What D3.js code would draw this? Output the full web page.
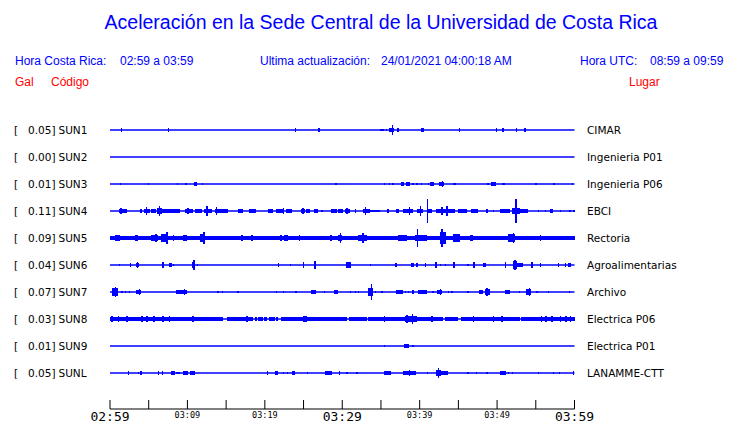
<!DOCTYPE html>
<html><head><meta charset="utf-8">
<script src="https://cdn.jsdelivr.net/npm/d3@7"></script>
<style>
html,body{margin:0;padding:0;background:#fff;}
svg{display:block;}
</style>
</head><body>
<svg id="chart" width="740" height="423"></svg>
<script>
// ---------- DATA ----------
const titleText = "Aceleración en la Sede Central de la Universidad de Costa Rica";
const headerLabels = ["Hora Costa Rica:", "Ultima actualización:", "Hora UTC:"];
const headerValues = ["02:59 a 03:59", "24/01/2021 04:00:18 AM", "08:59 a 09:59"];
const columnHeads = ["Gal", "Código", "Lugar"];

const stations = ["SUN1","SUN2","SUN3","SUN4","SUN5","SUN6","SUN7","SUN8","SUN9","SUNL"];
const places = ["CIMAR","Ingenieria P01","Ingenieria P06","EBCI","Rectoria","Agroalimentarias","Archivo","Electrica P06","Electrica P01","LANAMME-CTT"];
const peakGal = [0.05,0.00,0.01,0.11,0.09,0.04,0.07,0.03,0.01,0.05];
const noiseGal = [0,0,0,0,0.016,0,0,0,0,0];

const startTime = "2021-01-24T02:59:00";
const endTime = "2021-01-24T03:59:00";
const tickMinutes = [0,5,10,15,20,25,30,35,40,45,50,55,60];
const tickLabels = ["02:59","","03:09","","03:19","","03:29","","03:39","","03:49","","03:59"];
const tickMajor = [true,false,false,false,false,false,true,false,false,false,false,false,true];

// events: [start minute, end minute, half amplitude in gal]
const sun1 = [[1.46,1.46,0.014],[7.5,7.5,0.014],[23.9,23.9,0.014],[26.9,27.1,0.014],
 [35.0,35.4,0.012],[35.7,35.7,0.012],[36.1,36.4,0.016],[36.48,36.48,0.048],[36.5,36.7,0.02],
 [37.1,37.3,0.018],[40.3,40.5,0.018],[45.1,45.1,0.014],[49.9,49.9,0.014],[50.7,50.7,0.014],
 [52.5,52.5,0.014],[53.5,53.7,0.018]];
const sun2 = [];
const sun3 = [[1.33,1.33,0.012],[4.95,4.95,0.012],[8.7,8.7,0.012],[9.8,9.8,0.012],[10.9,11.2,0.014],
 [11.9,11.9,0.012],[29.1,29.3,0.012],[35.4,35.4,0.012],[36.1,36.1,0.01],[36.5,36.5,0.01],
 [37.6,38.0,0.014],[38.3,38.8,0.016],[39.1,39.1,0.01],[39.6,39.6,0.01],[40.2,40.2,0.01],
 [41.1,41.1,0.01],[41.4,41.8,0.014],[42.6,43.1,0.016],[42.9,42.9,0.024],[44.4,44.4,0.01],
 [44.6,44.6,0.01],[48.8,48.8,0.01],[49.3,49.8,0.016],[50.7,50.7,0.012],[50.9,50.9,0.01],
 [55.0,55.0,0.01],[57.3,57.3,0.01],[59.7,59.7,0.01]];
const sun4 = [[1.2,2.2,0.015],[1.42,1.42,0.03],[3.96,3.96,0.014],[4.44,5.17,0.015],[4.69,4.69,0.04],
 [5.38,5.9,0.014],[6.12,6.68,0.03],[6.37,6.37,0.05],[6.68,7.97,0.015],[8.1,8.74,0.014],[8.9,8.9,0.014],
 [9.73,10.77,0.015],[10.03,10.03,0.032],[10.98,11.93,0.014],[12.27,13.14,0.015],[12.49,12.49,0.042],
 [13.57,15.2,0.014],[13.74,13.74,0.037],[16.58,17.14,0.016],[18.0,18.82,0.016],[20.46,21.02,0.016],
 [21.53,22.52,0.015],[22.4,22.4,0.028],[22.83,23.47,0.014],[24.76,25.19,0.014],[24.9,24.9,0.032],
 [25.37,25.88,0.014],[26.44,26.92,0.015],[27.26,27.56,0.012],[28.55,29.29,0.015],[29.5,30.15,0.014],
 [30.37,31.0,0.015],[30.58,30.58,0.028],[31.66,31.66,0.018],[32.73,33.6,0.02],[32.95,32.95,0.037],
 [33.6,34.9,0.012],[35.88,35.88,0.014],[36.96,37.39,0.014],[37.9,39.2,0.02],[38.68,38.68,0.037],
 [39.71,40.49,0.02],[40.06,40.06,0.046],[41.0,41.0,0.11],[41.13,41.56,0.016],[42.21,44.58,0.02],
 [42.86,42.86,0.035],[43.5,43.5,0.046],[45.0,46.1,0.014],[46.73,47.59,0.014],[48.67,48.67,0.014],
 [49.53,49.53,0.012],[50.39,51.68,0.016],[51.98,52.98,0.028],[52.42,52.42,0.11],[52.98,54.05,0.016],
 [55.34,55.34,0.012],[56.2,56.2,0.012],[56.85,57.28,0.014],[58.14,58.14,0.012],[59.4,59.4,0.012],[59.9,59.9,0.012]];
const sun5 = [[0.65,1.3,0.025],[3.23,3.66,0.024],[5.38,6.16,0.028],[5.9,5.9,0.04],[6.59,7.45,0.038],
 [7.32,7.32,0.055],[8.18,8.18,0.025],[9.47,9.9,0.028],[11.63,12.27,0.035],[12.1,12.1,0.055],
 [12.27,14.0,0.022],[17.0,17.0,0.025],[18.3,18.3,0.025],[22.05,22.05,0.025],[22.6,22.95,0.024],
 [24.46,24.46,0.03],[25.4,25.8,0.022],[28.5,28.5,0.03],[29.5,30.0,0.032],[29.76,29.76,0.045],
 [32.09,33.17,0.03],[32.65,32.65,0.05],[37.26,38.33,0.024],[39.41,40.92,0.028],[39.71,39.71,0.08],
 [42.64,43.42,0.055],[42.85,42.85,0.085],[44.36,45.22,0.035],[46.52,46.95,0.024],[49.3,51.0,0.021],
 [51.47,52.33,0.033],[52.11,52.11,0.05],[55.56,55.56,0.03],[57.7,57.7,0.022]];
const sun6 = [[1.2,1.2,0.01],[2.63,2.63,0.014],[3.45,3.75,0.02],[3.53,3.53,0.03],[6.76,6.98,0.032],
 [7.75,7.97,0.02],[8.18,8.18,0.01],[10.64,10.98,0.03],[10.81,10.81,0.042],[11.24,11.24,0.012],
 [21.75,21.75,0.018],[23.26,23.26,0.01],[24.94,25.11,0.028],[26.4,26.57,0.037],[30.58,31.1,0.028],
 [33.6,33.6,0.01],[36.83,37.04,0.023],[38.98,39.28,0.023],[39.63,39.63,0.014],[40.7,40.7,0.018],
 [42.0,42.3,0.028],[42.64,42.64,0.012],[43.29,43.29,0.012],[44.36,44.58,0.032],[46.21,46.21,0.01],
 [46.95,47.16,0.032],[48.24,48.54,0.018],[51.04,51.04,0.028],[52.11,52.54,0.04],[52.29,52.29,0.05],
 [52.54,53.32,0.02],[54.48,54.48,0.026],[55.56,55.56,0.02],[57.93,57.93,0.014],[58.79,58.79,0.014],
 [59.26,59.52,0.023]];
const sun7 = [[0.3,0.99,0.04],[0.65,0.65,0.045],[1.5,1.5,0.01],[2.0,2.0,0.012],[2.5,2.5,0.012],
 [3.36,4.0,0.023],[3.79,3.79,0.032],[8.53,9.9,0.023],[9.6,9.6,0.032],[13.9,13.9,0.01],[14.5,14.5,0.01],
 [16.5,16.5,0.01],[21.45,21.45,0.01],[22.4,22.4,0.01],[23.99,23.99,0.01],[26.06,26.57,0.023],
 [27.69,27.69,0.01],[28.98,29.41,0.023],[31.01,31.01,0.01],[31.66,31.66,0.01],[32.09,32.09,0.01],
 [33.38,34.03,0.037],[33.73,33.73,0.07],[34.24,34.24,0.012],[35.1,35.1,0.01],[37.04,37.82,0.018],
 [38.12,38.12,0.012],[38.55,38.55,0.012],[39.11,39.11,0.014],[39.84,41.0,0.02],[41.69,41.69,0.012],
 [42.3,42.86,0.023],[42.64,42.64,0.03],[43.72,43.72,0.01],[44.15,44.15,0.01],[46.21,46.21,0.01],
 [47.72,48.15,0.023],[48.45,49.1,0.028],[48.67,48.67,0.035],[51.04,51.68,0.023],[52.89,52.89,0.01],
 [53.84,54.35,0.03],[54.14,54.14,0.037],[55.13,55.13,0.012],[56.64,56.64,0.012],[59.35,59.35,0.01]];
const sun8 = [[0,14.64,0.017],[15.16,17.66,0.017],[17.87,18.52,0.017],[18.82,18.82,0.018],
 [19.16,19.81,0.017],[19.94,20.33,0.017],[20.54,20.89,0.017],[21.02,21.32,0.017],[21.53,21.53,0.017],
 [22.09,30.58,0.017],[31.0,33.17,0.017],[33.4,38.12,0.017],[38.12,39.63,0.025],[38.33,38.33,0.04],
 [39.07,39.07,0.05],[39.63,43.07,0.017],[43.29,45.0,0.017],[45.44,52.97,0.017],[53.2,60,0.017],
 [0.22,0.22,0.03],[1.08,1.08,0.028],[2.15,2.15,0.028],[4.09,4.09,0.03],[4.74,4.74,0.026],
 [5.68,5.68,0.028],[6.8,6.8,0.03],[7.67,7.67,0.026],[10.64,10.9,0.032],[17.66,17.66,0.026],
 [24.98,25.41,0.028],[35.45,35.45,0.026],[41.56,41.56,0.026],[46.95,46.95,0.026],[49.53,49.53,0.026],
 [50.6,50.6,0.024],[55.69,55.69,0.026],[56.3,56.3,0.026],[57.07,57.07,0.026],[58.14,58.14,0.024],
 [58.88,58.88,0.026],[59.43,59.43,0.026]];
const sun9 = [[35.4,35.4,0.01],[38.1,38.6,0.014],[39.1,39.1,0.01]];
const sunL = [[2.37,2.37,0.014],[3.66,3.66,0.01],[4.0,4.18,0.018],[6.24,6.24,0.014],[6.76,6.76,0.014],
 [7.88,8.4,0.018],[8.61,8.61,0.012],[8.91,8.91,0.012],[9.47,10.12,0.018],[10.34,10.98,0.018],
 [20.33,20.33,0.014],[21.32,21.75,0.018],[22.39,22.39,0.012],[22.91,22.91,0.012],[23.56,23.9,0.018],
 [25.5,25.5,0.012],[27.86,28.64,0.022],[29.63,29.63,0.014],[30.58,30.58,0.01],[31.87,31.87,0.012],
 [35.45,36.27,0.018],[37.9,38.33,0.018],[38.33,39.54,0.023],[38.68,38.68,0.032],[41.0,41.0,0.012],
 [42.21,42.73,0.032],[42.42,42.42,0.05],[42.73,43.72,0.018],[46.21,46.21,0.012],[47.29,47.29,0.012],
 [48.67,48.67,0.012],[50.39,51.12,0.023],[51.47,51.47,0.012],[51.98,51.98,0.012],[55.34,55.34,0.012],
 [57.28,57.28,0.012],[58.01,58.01,0.012],[59.87,59.87,0.018]];
const stationEvents = [sun1,sun2,sun3,sun4,sun5,sun6,sun7,sun8,sun9,sunL];

// ---------- DRAW ----------
const svg = d3.select("#chart");
const blue = "#0000ff", red = "#ff0000";
const sans = "'Liberation Sans', Arial, sans-serif";
const dv = "'DejaVu Sans', sans-serif";
const mono = "'DejaVu Sans Mono', monospace";

const t0 = new Date(startTime), t1 = new Date(endTime);
const x = d3.scaleTime().domain([t0, t1]).range([110, 574.5]);
const xm = m => x(new Date(t0.getTime() + m * 60000));
const yRow = d3.scalePoint().domain(stations).range([130, 373]);
const amp = d3.scaleLinear().domain([0, 0.12]).range([0, 13]);

svg.append("text").attr("x", 381).attr("y", 29).attr("text-anchor", "middle")
  .attr("font-family", sans).attr("font-size", 19.5).attr("fill", blue).text(titleText);

const hx = [15, 260, 580], vx = [120, 381, 650];
headerLabels.forEach((h, i) => {
  svg.append("text").attr("x", hx[i]).attr("y", 65).attr("font-family", sans)
    .attr("font-size", 12).attr("fill", blue).text(h);
  svg.append("text").attr("x", vx[i]).attr("y", 65).attr("font-family", sans)
    .attr("font-size", 12).attr("fill", blue).text(headerValues[i]);
});
const cx = [15, 51, 629];
columnHeads.forEach((h, i) => {
  svg.append("text").attr("x", cx[i]).attr("y", 86).attr("font-family", sans)
    .attr("font-size", 12).attr("fill", red).text(h);
});

const rows = svg.selectAll("g.row").data(stations).join("g").attr("class", "row")
  .attr("transform", d => `translate(0,${yRow(d)})`);

rows.append("text").attr("x", 14).attr("dy", "0.36em").attr("font-family", dv)
  .attr("font-size", 10.5).attr("fill", "#000").text("[");
rows.append("text").attr("x", 55.5).attr("dy", "0.36em").attr("text-anchor", "end")
  .attr("font-family", dv).attr("font-size", 10.5).attr("fill", "#000")
  .text((d, i) => d3.format(".2f")(peakGal[i]) + "]");
rows.append("text").attr("x", 58.5).attr("dy", "0.36em").attr("font-family", dv)
  .attr("font-size", 10.5).attr("fill", "#000").text(d => d);
rows.append("text").attr("x", 587).attr("dy", "0.36em").attr("font-family", dv)
  .attr("font-size", 10.5).attr("fill", "#000").text((d, i) => places[i]);

// baseline
rows.append("path").attr("d", d3.line()([[xm(0), 0], [xm(60), 0]]))
  .attr("stroke", blue).attr("stroke-width", 1.5).attr("fill", "none");
// noise band
rows.filter((d, i) => noiseGal[i] > 0).append("rect")
  .attr("x", xm(0)).attr("width", xm(60) - xm(0))
  .attr("y", (d) => -amp(noiseGal[stations.indexOf(d)]))
  .attr("height", (d) => 2 * amp(noiseGal[stations.indexOf(d)]))
  .attr("fill", blue).attr("shape-rendering", "crispEdges");
// events
rows.each(function(d, i) {
  d3.select(this).selectAll("rect.ev").data(stationEvents[i]).join("rect").attr("class", "ev")
    .attr("x", e => xm(e[0]) - 0.5)
    .attr("width", e => Math.max(xm(e[1]) - xm(e[0]), 1) + 0.5)
    .attr("y", e => -amp(e[2]))
    .attr("height", e => 2 * amp(e[2]))
    .attr("fill", blue).attr("shape-rendering", "crispEdges");
});

// time axis
const axisY = 409;
svg.append("line").attr("x1", xm(0)).attr("x2", xm(60)).attr("y1", axisY).attr("y2", axisY)
  .attr("stroke", "#000").attr("stroke-width", 1);
tickMinutes.forEach((m, i) => {
  svg.append("line").attr("x1", xm(m)).attr("x2", xm(m)).attr("y1", axisY - 9).attr("y2", axisY)
    .attr("stroke", "#000").attr("stroke-width", 1);
  if (tickLabels[i]) {
    svg.append("text").attr("x", xm(m)).attr("y", tickMajor[i] ? 421 : 418)
      .attr("text-anchor", "middle").attr("font-family", mono)
      .attr("font-size", tickMajor[i] ? 13 : 8.5).attr("fill", "#000").text(tickLabels[i]);
  }
});
</script>
</body></html>
